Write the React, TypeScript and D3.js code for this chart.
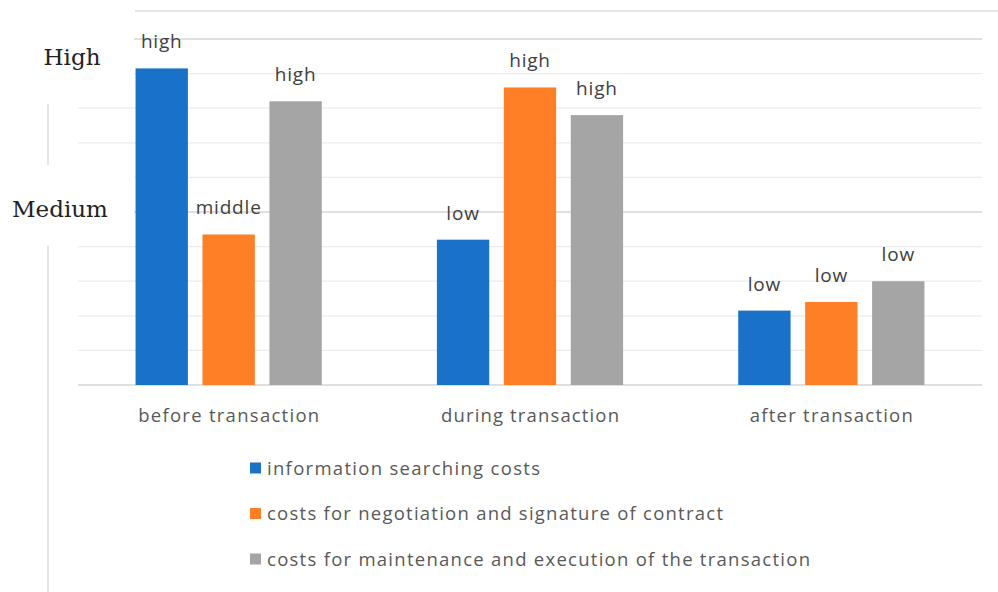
import React from 'react';
import * as d3 from 'd3';

const categories = ['before transaction', 'during transaction', 'after transaction'];
const seriesNames = [
  'information searching costs',
  'costs for negotiation and signature of contract',
  'costs for maintenance and execution of the transaction',
];
const seriesColors = ['#1a71c8', '#fe7f26', '#a5a5a5'];
// values, per series, per category
const seriesValues = [
  [9.15, 4.2, 2.15],
  [4.35, 8.6, 2.4],
  [8.2, 7.8, 3.0],
];
const barLabels = [
  ['high', 'low', 'low'],
  ['middle', 'high', 'low'],
  ['high', 'high', 'low'],
];
const gridTicks = d3.range(0, 11, 1);
// rendered widths of the text in the reference (the original font runs wider)
const categoryWidths = [181, 178, 163];
const legendWidths = [273, 456, 543];

const W = 998;
const H = 592;

const App = () => {
  const x0 = d3.scaleBand().domain(categories).range([78, 982]).paddingInner(0.382).paddingOuter(0.191);
  const x1 = d3.scaleBand().domain(seriesNames).range([0, x0.bandwidth()]).paddingInner(0.218);
  const y = d3.scaleLinear().domain([0, 10]).range([385, 39]);

  const sans = '"Open Sans", sans-serif';

  return (
    <svg width={W} height={H} style={{ position: 'absolute', left: 0, top: 0, background: '#fff' }}>
      {/* top rule */}
      <line x1={135} x2={W} y1={11} y2={11} stroke="#dcdcdc" strokeWidth={1.5} />

      {/* gridlines */}
      {gridTicks.map(t => (
        <line
          key={t}
          x1={78}
          x2={982}
          y1={y(t)}
          y2={y(t)}
          stroke={t % 5 === 0 ? '#d6d6d6' : '#ececec'}
          strokeWidth={t % 5 === 0 ? 1.5 : 1.2}
        />
      ))}

      {/* text boxes covering the left part of the grid */}
      <rect x={0} y={0} width={134} height={92} fill="#fff" />
      <rect x={0} y={168} width={134} height={70} fill="#fff" />
      <line x1={48} x2={48} y1={104} y2={165} stroke="#dedede" strokeWidth={1.5} />
      <line x1={48} x2={48} y1={246} y2={H} stroke="#dedede" strokeWidth={1.5} />
      <text x={72} y={65} textAnchor="middle" fontFamily='"DejaVu Serif", serif' fontSize={23} fill="#222">High</text>
      <text x={60} y={217} textAnchor="middle" fontFamily='"DejaVu Serif", serif' fontSize={23} fill="#222">Medium</text>

      {/* bars */}
      {categories.map((c, ci) => (
        <g key={c} transform={`translate(${x0(c)},0)`}>
          {seriesNames.map((s, si) => {
            const v = seriesValues[si][ci];
            const bx = x1(s) as number;
            return (
              <g key={s}>
                <rect x={bx} y={y(v)} width={x1.bandwidth()} height={y(0) - y(v)} fill={seriesColors[si]} />
                <text
                  x={bx + x1.bandwidth() / 2}
                  y={y(v) - 20}
                  textAnchor="middle"
                  fontFamily={sans}
                  fontSize={19}
                  letterSpacing={0.8}
                  fill="#404040"
                >
                  {barLabels[si][ci]}
                </text>
              </g>
            );
          })}
        </g>
      ))}

      {/* category labels */}
      {categories.map((c, i) => (
        <text
          key={c}
          x={(x0(c) as number) + x0.bandwidth() / 2}
          y={422}
          textAnchor="middle"
          fontFamily={sans}
          fontSize={18.5}
          textLength={categoryWidths[i]}
          fill="#595959"
        >
          {c}
        </text>
      ))}

      {/* legend */}
      {seriesNames.map((s, i) => (
        <g key={s} transform={`translate(250,${468 + i * 45.5})`}>
          <rect x={0} y={-5.5} width={11} height={11} fill={seriesColors[i]} />
          <text x={17} y={6.5} fontFamily={sans} fontSize={18.5} textLength={legendWidths[i]} fill="#595959">{s}</text>
        </g>
      ))}
    </svg>
  );
};

export default App;
